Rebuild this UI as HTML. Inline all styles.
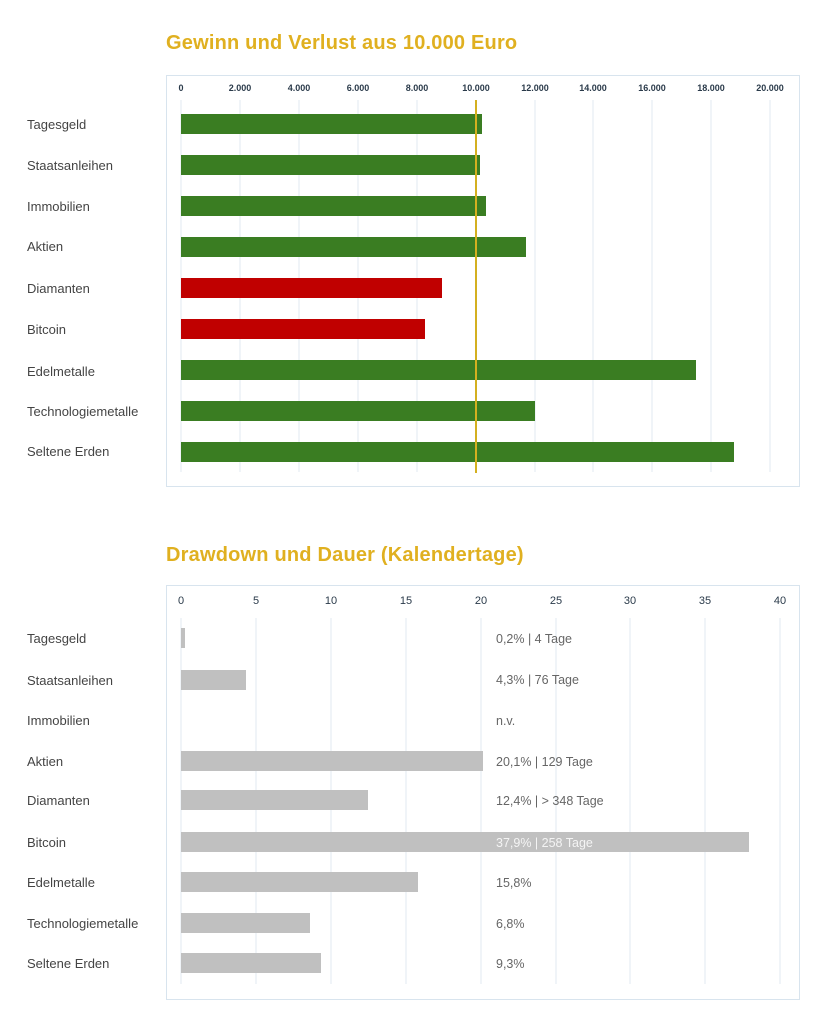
<!DOCTYPE html>
<html><head><meta charset="utf-8"><style>
html,body{margin:0;padding:0;background:#fff;}
svg{display:block;}
.t{font-family:"Liberation Sans",sans-serif;font-weight:bold;font-size:20px;letter-spacing:0.2px;fill:#e0b020;}
.ax{font-family:"Liberation Sans",sans-serif;font-weight:bold;font-size:9px;fill:#2a3a4a;}
.ax2{font-family:"Liberation Sans",sans-serif;font-size:11px;fill:#2a3a4a;}
.lb{font-family:"Liberation Sans",sans-serif;font-size:13px;fill:#444;}
.v{font-family:"Liberation Sans",sans-serif;font-size:12.5px;fill:#666;}
</style></head><body>
<svg width="827" height="1024" xmlns="http://www.w3.org/2000/svg">
<text class="t" x="166" y="49">Gewinn und Verlust aus 10.000 Euro</text>
<rect x="166.5" y="75.5" width="633" height="411" fill="none" stroke="#d8e4ee"/>
<g stroke="#e0e8f0">
<line x1="181" y1="100" x2="181" y2="472"/><line x1="240" y1="100" x2="240" y2="472"/><line x1="299" y1="100" x2="299" y2="472"/><line x1="358" y1="100" x2="358" y2="472"/><line x1="417" y1="100" x2="417" y2="472"/><line x1="476" y1="100" x2="476" y2="472"/><line x1="535" y1="100" x2="535" y2="472"/><line x1="593" y1="100" x2="593" y2="472"/><line x1="652" y1="100" x2="652" y2="472"/><line x1="711" y1="100" x2="711" y2="472"/><line x1="770" y1="100" x2="770" y2="472"/>
</g>
<g class="ax" text-anchor="middle">
<text x="181" y="91">0</text><text x="240" y="91">2.000</text><text x="299" y="91">4.000</text><text x="358" y="91">6.000</text><text x="417" y="91">8.000</text><text x="476" y="91">10.000</text><text x="535" y="91">12.000</text><text x="593" y="91">14.000</text><text x="652" y="91">16.000</text><text x="711" y="91">18.000</text><text x="770" y="91">20.000</text>
</g>
<g fill="#3a7d22">
<rect x="181" y="114" width="301" height="20"/><rect x="181" y="155" width="299" height="20"/><rect x="181" y="196" width="305" height="20"/><rect x="181" y="237" width="345" height="20"/>
<rect x="181" y="360" width="515" height="20"/><rect x="181" y="401" width="354" height="20"/><rect x="181" y="442" width="553" height="20"/>
</g>
<g fill="#c00000"><rect x="181" y="278" width="261" height="20"/><rect x="181" y="319" width="244" height="20"/></g>
<line x1="476" y1="100" x2="476" y2="473" stroke="#d4b020" stroke-width="2"/>
<g class="lb">
<text x="27" y="129">Tagesgeld</text><text x="27" y="170">Staatsanleihen</text><text x="27" y="211">Immobilien</text><text x="27" y="251">Aktien</text><text x="27" y="293">Diamanten</text><text x="27" y="334">Bitcoin</text><text x="27" y="376">Edelmetalle</text><text x="27" y="416">Technologiemetalle</text><text x="27" y="456">Seltene Erden</text>
</g>

<text class="t" x="166" y="561">Drawdown und Dauer (Kalendertage)</text>
<rect x="166.5" y="585.5" width="633" height="414" fill="none" stroke="#d8e4ee"/>
<g stroke="#e0e8f0">
<line x1="181" y1="618" x2="181" y2="984"/><line x1="256" y1="618" x2="256" y2="984"/><line x1="331" y1="618" x2="331" y2="984"/><line x1="406" y1="618" x2="406" y2="984"/><line x1="481" y1="618" x2="481" y2="984"/><line x1="556" y1="618" x2="556" y2="984"/><line x1="630" y1="618" x2="630" y2="984"/><line x1="705" y1="618" x2="705" y2="984"/><line x1="780" y1="618" x2="780" y2="984"/>
</g>
<g class="ax2" text-anchor="middle">
<text x="181" y="604">0</text><text x="256" y="604">5</text><text x="331" y="604">10</text><text x="406" y="604">15</text><text x="481" y="604">20</text><text x="556" y="604">25</text><text x="630" y="604">30</text><text x="705" y="604">35</text><text x="780" y="604">40</text>
</g>
<g fill="#c0c0c0">
<rect x="181" y="628" width="4" height="20"/><rect x="181" y="670" width="65" height="20"/><rect x="181" y="751" width="302" height="20"/><rect x="181" y="790" width="187" height="20"/><rect x="181" y="832" width="568" height="20"/><rect x="181" y="872" width="237" height="20"/><rect x="181" y="913" width="129" height="20"/><rect x="181" y="953" width="140" height="20"/>
</g>
<g class="v">
<text x="496" y="643">0,2% | 4 Tage</text><text x="496" y="684">4,3% | 76 Tage</text><text x="496" y="725">n.v.</text><text x="496" y="766">20,1% | 129 Tage</text><text x="496" y="805">12,4% | &gt; 348 Tage</text><text x="496" y="847" fill="#f4f4f4">37,9% | 258 Tage</text><text x="496" y="887">15,8%</text><text x="496" y="928">6,8%</text><text x="496" y="968">9,3%</text>
</g>
<g class="lb">
<text x="27" y="643">Tagesgeld</text><text x="27" y="685">Staatsanleihen</text><text x="27" y="725">Immobilien</text><text x="27" y="766">Aktien</text><text x="27" y="805">Diamanten</text><text x="27" y="847">Bitcoin</text><text x="27" y="887">Edelmetalle</text><text x="27" y="928">Technologiemetalle</text><text x="27" y="968">Seltene Erden</text>
</g>
</svg>
</body></html>
